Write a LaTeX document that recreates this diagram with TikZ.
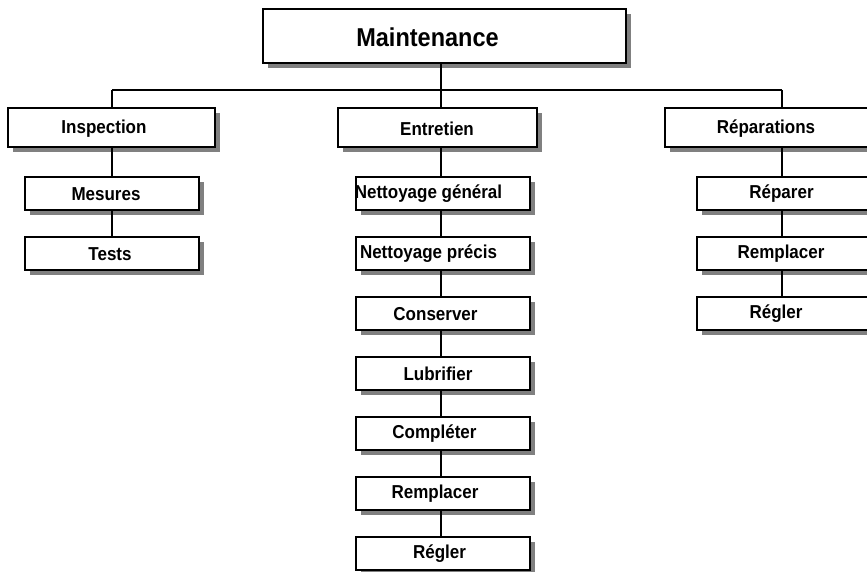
\documentclass[tikz,border=0pt]{standalone}
\usepackage{fontspec}
\usepackage{graphicx}
\setmainfont{Liberation Sans}
\usetikzlibrary{shadows}
\definecolor{shadowgray}{HTML}{808080}
\newcommand{\tallt}[1]{\scalebox{1}[1.1]{#1}}
\tikzset{
  box/.style={draw=black, line width=2pt, fill=white, inner sep=0pt,
    drop shadow={shadow xshift=5pt, shadow yshift=-5pt, fill=shadowgray, opacity=1}},
  mainbox/.style={box, minimum width=363pt, minimum height=54pt},
  lvlbox/.style={box, minimum height=39pt},
  subbox/.style={box, minimum width=174pt, minimum height=33pt},
  lbl/.style={inner sep=0pt, font=\bfseries\fontsize{17}{20}\selectfont},
  mainlbl/.style={inner sep=0pt, font=\bfseries\fontsize{23.5}{28}\selectfont},
  link/.style={line width=2pt, black}
}
\begin{document}
\begin{tikzpicture}[x=1pt, y=-1pt]
\useasboundingbox (0,0) rectangle (867,572);
% top
\node[mainbox] (main) at (444.5,36) {};
\node[mainlbl] (mainT) at (427.5,37) {\tallt{Maintenance}};
% level 1
\node[lvlbox, minimum width=207pt] (insp) at (111.5,128) {};
\node[lvlbox, minimum width=199pt] (entr) at (437.5,128) {};
\node[lvlbox, minimum width=207pt] (rep) at (768.5,128) {};
\node[lbl] (inspT) at (104,129) {\tallt{Inspection}};
\node[lbl] (entrT) at (437,129) {\tallt{Entretien}};
\node[lbl] (repT) at (766,129) {\tallt{Réparations}};
% column coordinates
\coordinate (b1) at (112,90);
\coordinate (b2) at (441,90);
\coordinate (b3) at (782,90);
% Inspection column
\node[subbox] (mes) at (111.5,193.5) {};
\node[subbox] (tst) at (111.5,253.5) {};
\node[lbl] (mesT) at (106,194) {\tallt{Mesures}};
\node[lbl] (tstT) at (110,254) {\tallt{Tests}};
% Entretien column
\node[subbox] (ng) at (443,193.5) {};
\node[subbox] (np) at (443,253.5) {};
\node[subbox] (cons) at (443,313.5) {};
\node[subbox] (lub) at (443,373.5) {};
\node[subbox] (comp) at (443,433.5) {};
\node[subbox] (remE) at (443,493.5) {};
\node[subbox] (regE) at (443,553.5) {};
\node[lbl] (ngT) at (428.5,194) {\tallt{Nettoyage général}};
\node[lbl] (npT) at (428.5,254) {\tallt{Nettoyage précis}};
\node[lbl] (consT) at (435.5,314) {\tallt{Conserver}};
\node[lbl] (lubT) at (438,374) {\tallt{Lubrifier}};
\node[lbl] (compT) at (434.5,434) {\tallt{Compléter}};
\node[lbl] (remET) at (435,494) {\tallt{Remplacer}};
\node[lbl] (regET) at (439.5,554) {\tallt{Régler}};
% Reparations column
\node[subbox] (repa) at (783.5,193.5) {};
\node[subbox] (remR) at (783.5,253.5) {};
\node[subbox] (regR) at (783.5,313.5) {};
\node[lbl] (repaT) at (781.5,194) {\tallt{Réparer}};
\node[lbl] (remRT) at (781,254) {\tallt{Remplacer}};
\node[lbl] (regRT) at (776,314) {\tallt{Régler}};
% connectors
\draw[link] (main.south -| b2) -- (entr.north -| b2);
\draw[link] (b1) -- (b3);
\draw[link] (b1) -- (insp.north -| b1);
\draw[link] (b3) -- (rep.north -| b3);
\draw[link] (insp.south -| b1) -- (mes.north -| b1);
\draw[link] (mes.south -| b1) -- (tst.north -| b1);
\draw[link] (entr.south -| b2) -- (ng.north -| b2);
\draw[link] (ng.south -| b2) -- (np.north -| b2);
\draw[link] (np.south -| b2) -- (cons.north -| b2);
\draw[link] (cons.south -| b2) -- (lub.north -| b2);
\draw[link] (lub.south -| b2) -- (comp.north -| b2);
\draw[link] (comp.south -| b2) -- (remE.north -| b2);
\draw[link] (remE.south -| b2) -- (regE.north -| b2);
\draw[link] (rep.south -| b3) -- (repa.north -| b3);
\draw[link] (repa.south -| b3) -- (remR.north -| b3);
\draw[link] (remR.south -| b3) -- (regR.north -| b3);
\end{tikzpicture}
\end{document}
